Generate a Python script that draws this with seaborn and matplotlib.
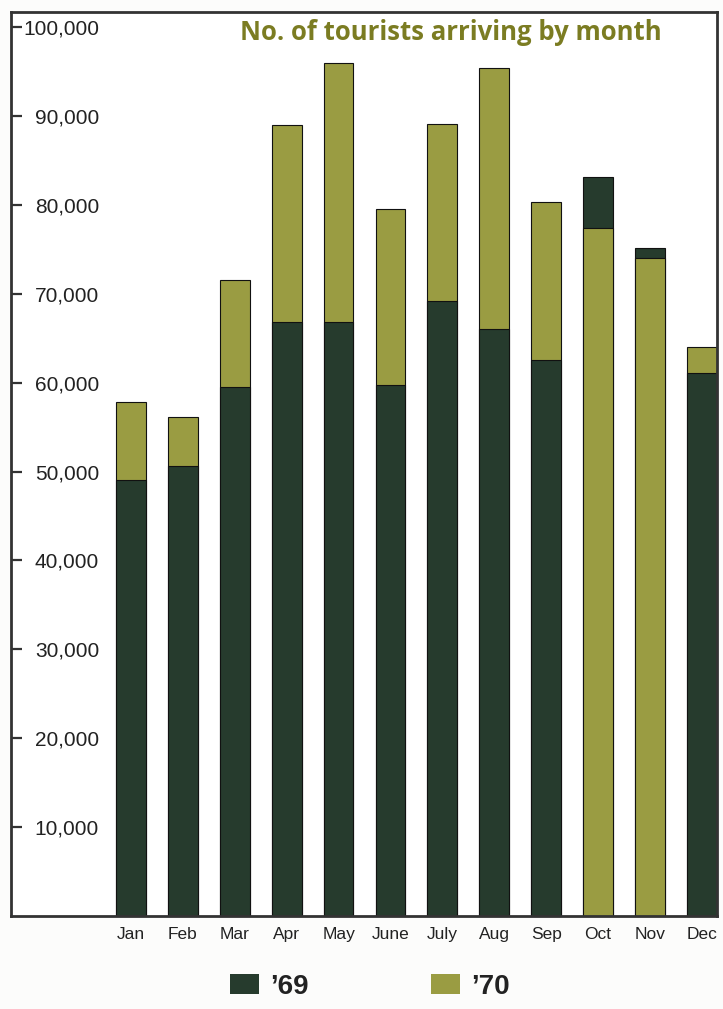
import numpy as np
import pandas as pd
import seaborn as sns
import matplotlib.pyplot as plt
from matplotlib.patches import Patch

# Monthly tourist arrivals
months = ["Jan", "Feb", "Mar", "Apr", "May", "June", "July", "Aug", "Sep", "Oct", "Nov", "Dec"]
arrivals_69 = [49000, 50600, 59500, 66800, 66800, 59700, 69200, 66000, 62600, 83100, 75200, 61100]
arrivals_70 = [57800, 56100, 71600, 89000, 96000, 79500, 89100, 95400, 80300, 77400, 74000, 64000]
y_ticks = [10000, 20000, 30000, 40000, 50000, 60000, 70000, 80000, 90000, 100000]
year_labels = ["\u201969", "\u201970"]
title = "No. of tourists arriving by month"

DARK = "#263b2d"
OLIVE = "#9a9c42"
TITLE_C = "#7b7c22"
INK = "#222222"

sns.set_theme(style="white")
plt.rcParams["font.family"] = ["Liberation Sans", "DejaVu Sans"]

df = pd.DataFrame({"month": months, "y69": arrivals_69, "y70": arrivals_70})

W, H, DPI = 723, 1009, 100
fig = plt.figure(figsize=(W / DPI, H / DPI), dpi=DPI, facecolor="#fcfcfb")
ax = fig.add_axes([11 / W, 1 - 916 / H, (717 - 11) / W, (916 - 12) / H])
ax.set_facecolor("white")

sns.barplot(data=df, x="month", y="y69", color=DARK, width=0.575, saturation=1,
            edgecolor="#111111", linewidth=0.8, ax=ax)
sns.barplot(data=df, x="month", y="y70", color=OLIVE, width=0.575, saturation=1,
            edgecolor="#111111", linewidth=0.8, ax=ax)

# The shorter bar of each month sits in front of the taller one
n = len(months)
for i in range(n):
    p69, p70 = ax.patches[i], ax.patches[n + i]
    if p69.get_height() <= p70.get_height():
        p69.set_zorder(3); p70.set_zorder(2)
    else:
        p69.set_zorder(2); p70.set_zorder(3)

ax.set_xlim(-2.31, 11.29)
ax.set_ylim(0, 101700)
ax.set_xlabel("")
ax.set_ylabel("")

ax.set_yticks(y_ticks)
ax.set_yticklabels([f"{v:,}" for v in y_ticks])
ax.tick_params(axis="y", direction="in", length=8, width=1.6, color="#333333",
               pad=-63.4, labelsize=15, labelcolor=INK, left=True)
ax.tick_params(axis="x", length=0, pad=8, labelsize=12.5, labelcolor=INK)

for side in ["left", "right", "top", "bottom"]:
    ax.spines[side].set_visible(True)
    ax.spines[side].set_color("#333333")
    ax.spines[side].set_linewidth(2.0)
    ax.spines[side].set_zorder(4)

fig.text(451 / W, 1 - 33 / H, title, ha="center", va="center",
         fontsize=18.5, fontweight="bold", color=TITLE_C, family=["Open Sans", "DejaVu Sans"])

handles = [Patch(facecolor=DARK, edgecolor="none"), Patch(facecolor=OLIVE, edgecolor="none")]
leg = fig.legend(handles, year_labels, loc="center", bbox_to_anchor=(370 / W, 1 - 987 / H),
                 ncol=2, frameon=False, fontsize=20, handlelength=1.04, handleheight=0.72,
                 handletextpad=0.4, columnspacing=4.4, borderpad=0, borderaxespad=0)
for t in leg.get_texts():
    t.set_fontweight("bold")
    t.set_color(INK)

fig.savefig("out.png", dpi=DPI, facecolor=fig.get_facecolor())
